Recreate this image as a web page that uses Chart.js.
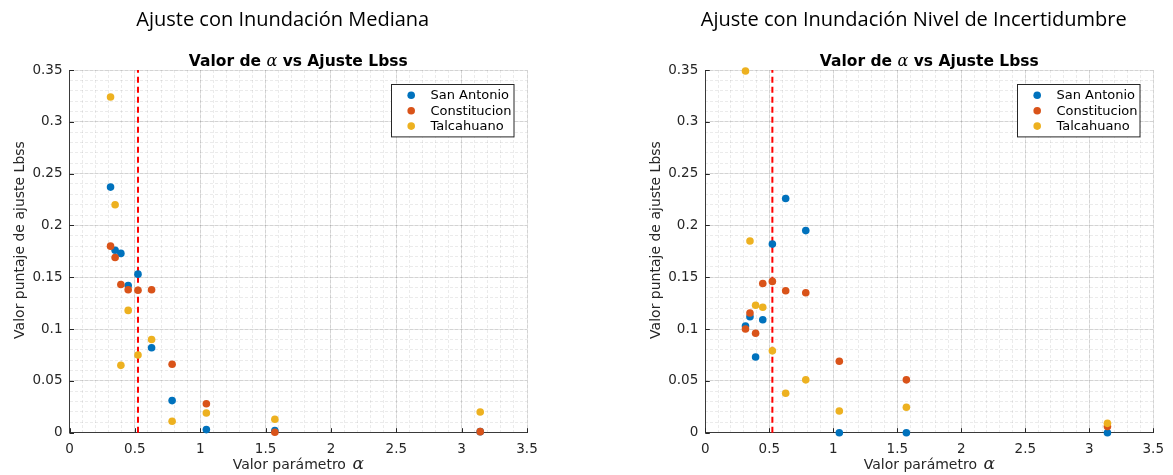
<!DOCTYPE html>
<html>
<head>
<meta charset="utf-8">
<script src="https://cdn.jsdelivr.net/npm/chart.js@4/dist/chart.umd.min.js"></script>
<style>
  html, body { margin: 0; padding: 0; background: #ffffff; }
  #wrap { position: relative; width: 1173px; height: 475px; overflow: hidden; background: #ffffff; }
  canvas { position: absolute; top: 0; }
</style>
</head>
<body>
<div id="wrap">
  <canvas id="cMediana" width="586" height="475" style="left:0px;width:586px;height:475px"></canvas>
  <canvas id="cIncert" width="587" height="475" style="left:586px;width:587px;height:475px"></canvas>
</div>
<script>
// Valores del parámetro alfa evaluados (eje x)
const alphaValues = [0.314, 0.349, 0.393, 0.449, 0.524, 0.628, 0.785, 1.047, 1.571, 3.142];
// Alfa seleccionado (línea vertical discontinua)
const alphaCorte = 0.524;

const seriesNames = ['San Antonio', 'Constitucion', 'Talcahuano'];

// Ajuste Lbss con inundación mediana
const medianaSanAntonio   = [0.237, 0.176, 0.173, 0.142, 0.153, 0.082, 0.031, 0.003, 0.002, 0.001];
const medianaConstitucion = [0.180, 0.169, 0.143, 0.138, 0.1375, 0.138, 0.066, 0.028, 0.0004, 0.001];
const medianaTalcahuano   = [0.324, 0.220, 0.065, 0.118, 0.075, 0.090, 0.011, 0.019, 0.013, 0.020];

// Ajuste Lbss con inundación nivel de incertidumbre
const incertSanAntonio   = [0.103, 0.112, 0.073, 0.109, 0.182, 0.226, 0.195, 0.000, 0.000, 0.000];
const incertConstitucion = [0.100, 0.1155, 0.096, 0.144, 0.146, 0.137, 0.135, 0.069, 0.051, 0.006];
const incertTalcahuano   = [0.349, 0.185, 0.123, 0.121, 0.079, 0.038, 0.051, 0.021, 0.0245, 0.009];

const xTickLabels = ['0', '0.5', '1', '1.5', '2', '2.5', '3', '3.5'];
const yTickLabels = ['0', '0.05', '0.1', '0.15', '0.2', '0.25', '0.3', '0.35'];
const xLimits = [0, 3.5];
const yLimits = [0, 0.35];

const seriesColors = ['#0072BD', '#D95319', '#EDB120'];
const axisColor = '#262626';
const sansFont = '"DejaVu Sans", sans-serif';
const serifFont = '"DejaVu Serif", serif';

function drawRich(ctx, parts, cx, y) {
  let total = 0;
  parts.forEach(p => { ctx.font = p.font; p.w = ctx.measureText(p.t).width + (p.gap || 0); total += p.w; });
  let x = cx - total / 2;
  ctx.textAlign = 'left';
  ctx.textBaseline = 'alphabetic';
  parts.forEach(p => { ctx.font = p.font; ctx.fillText(p.t, x + (p.gap || 0), y); x += p.w; });
}

const decorPlugin = {
  id: 'decor',
  afterDraw(chart, args, opts) {
    const ctx = chart.ctx;
    const a = chart.chartArea;
    const xs = chart.scales.x, ys = chart.scales.y;
    const mid = (a.left + a.right) / 2;
    ctx.save();

    // inward tick marks
    ctx.strokeStyle = axisColor;
    ctx.lineWidth = 1;
    ctx.beginPath();
    xs.ticks.forEach(t => {
      const px = Math.round(xs.getPixelForValue(t.value)) + 0.5;
      ctx.moveTo(px, a.bottom);
      ctx.lineTo(px, a.bottom - 4.5);
    });
    ys.ticks.forEach(t => {
      const py = Math.round(ys.getPixelForValue(t.value)) + 0.5;
      ctx.moveTo(a.left, py);
      ctx.lineTo(a.left + 4.5, py);
    });
    ctx.stroke();

    // figure caption above each panel
    ctx.fillStyle = '#000000';
    ctx.font = '20px "Open Sans", sans-serif';
    ctx.textAlign = 'center';
    ctx.textBaseline = 'alphabetic';
    ctx.fillText(opts.caption, mid - 15.5, 26);

    // axes title
    const bold = 'bold 15.5px ' + sansFont;
    drawRich(ctx, [
      { t: 'Valor de ', font: bold },
      { t: 'α', font: 'italic 16px ' + serifFont },
      { t: ' vs Ajuste Lbss', font: bold }
    ], mid, 66);

    // x axis label
    ctx.fillStyle = axisColor;
    drawRich(ctx, [
      { t: 'Valor parámetro ', font: '14px ' + sansFont },
      { t: 'α', font: 'italic 17px ' + serifFont, gap: 2 }
    ], mid, a.bottom + 36.6);

    // y axis label
    ctx.save();
    ctx.translate(a.left - 45.6, 240);
    ctx.rotate(-Math.PI / 2);
    ctx.font = '14px ' + sansFont;
    ctx.textAlign = 'center';
    ctx.textBaseline = 'alphabetic';
    ctx.fillText('Valor puntaje de ajuste Lbss', 0, 0);
    ctx.restore();

    // legend box (north-east, inside the axes)
    const bw = 122.5, bh = 52.4;
    const bx = Math.round(a.right - 13.7 - bw) + 0.5;
    const by = Math.round(a.top + 14.3) + 0.5;
    ctx.fillStyle = '#ffffff';
    ctx.fillRect(bx, by, bw, bh);
    ctx.strokeStyle = axisColor;
    ctx.lineWidth = 1;
    ctx.strokeRect(bx, by, bw, bh);
    const rows = [10.8, 26.2, 41.6];
    chart.data.datasets.filter(d => d.inLegend).forEach((d, i) => {
      const ry = by + rows[i];
      ctx.beginPath();
      ctx.fillStyle = d.backgroundColor;
      ctx.arc(bx + 19.7, ry, 3.8, 0, Math.PI * 2);
      ctx.fill();
      ctx.fillStyle = '#000000';
      ctx.font = '13px ' + sansFont;
      ctx.textAlign = 'left';
      ctx.textBaseline = 'middle';
      ctx.fillText(d.label, bx + 39, ry + 0.5);
    });

    ctx.restore();
  }
};

function makeChart(canvasId, caption, seriesValues, plotLeft, plotRight) {
  const canvas = document.getElementById(canvasId);
  const W = canvas.width, H = canvas.height;
  const plotTop = 70, plotBottom = 432.7;

  const datasets = seriesValues.map((vals, s) => ({
    label: seriesNames[s],
    inLegend: true,
    data: alphaValues.map((x, i) => ({ x: x, y: vals[i] })),
    backgroundColor: seriesColors[s],
    borderColor: seriesColors[s],
    pointRadius: 3.8,
    pointBorderWidth: 0,
    pointHoverRadius: 3.8,
    showLine: false,
    clip: false,
    order: 3 - s
  }));
  datasets.push({
    label: 'alfa',
    inLegend: false,
    data: [{ x: alphaCorte, y: yLimits[0] }, { x: alphaCorte, y: yLimits[1] }],
    showLine: true,
    borderColor: '#ff0000',
    backgroundColor: '#ff0000',
    borderWidth: 2,
    borderDash: [6, 4],
    pointRadius: 0,
    clip: false,
    order: 4
  });

  const majorGrid = 'rgba(38,38,38,0.12)';
  const minorGrid = 'rgba(38,38,38,0.09)';
  const tickFont = { family: sansFont, size: 13.5 };

  return new Chart(canvas, {
    type: 'scatter',
    data: { datasets },
    options: {
      responsive: false,
      animation: false,
      events: [],
      layout: { padding: { top: plotTop, right: W - plotRight, left: 0, bottom: 0 } },
      plugins: {
        legend: { display: false },
        tooltip: { enabled: false },
        title: { display: false },
        decor: { caption }
      },
      scales: {
        xMinor: {
          type: 'linear', position: 'bottom', min: xLimits[0], max: xLimits[1],
          ticks: { display: false, stepSize: 0.1, autoSkip: false },
          grid: { color: minorGrid, lineWidth: 1, drawTicks: false, borderDash: [3, 2] },
          border: { display: false, dash: [3, 2] },
          afterFit: s => { s.height = 0; }
        },
        yMinor: {
          type: 'linear', position: 'left', min: yLimits[0], max: yLimits[1],
          ticks: { display: false, stepSize: 0.01, autoSkip: false },
          grid: { color: minorGrid, lineWidth: 1, drawTicks: false, borderDash: [3, 2] },
          border: { display: false, dash: [3, 2] },
          afterFit: s => { s.width = 0; }
        },
        x: {
          type: 'linear', position: 'bottom', min: xLimits[0], max: xLimits[1],
          ticks: {
            stepSize: 0.5, autoSkip: false, maxRotation: 0, padding: 9,
            color: axisColor, font: tickFont,
            callback: (v, i) => xTickLabels[i]
          },
          grid: { color: majorGrid, lineWidth: 1, drawTicks: false },
          border: { display: true, color: '#3a3a3a', width: 1 },
          afterFit: s => { s.height = H - plotBottom; }
        },
        y: {
          type: 'linear', position: 'left', min: yLimits[0], max: yLimits[1],
          ticks: {
            stepSize: 0.05, autoSkip: false, padding: 7,
            color: axisColor, font: tickFont,
            callback: (v, i) => yTickLabels[i]
          },
          grid: { color: majorGrid, lineWidth: 1, drawTicks: false },
          border: { display: true, color: '#3a3a3a', width: 1 },
          afterFit: s => { s.width = plotLeft; }
        }
      }
    },
    plugins: [decorPlugin]
  });
}

makeChart('cMediana', 'Ajuste con Inundación Mediana',
  [medianaSanAntonio, medianaConstitucion, medianaTalcahuano], 69.5, 527);
makeChart('cIncert', 'Ajuste con Inundación Nivel de Incertidumbre',
  [incertSanAntonio, incertConstitucion, incertTalcahuano], 119.3, 569);
</script>
</body>
</html>
